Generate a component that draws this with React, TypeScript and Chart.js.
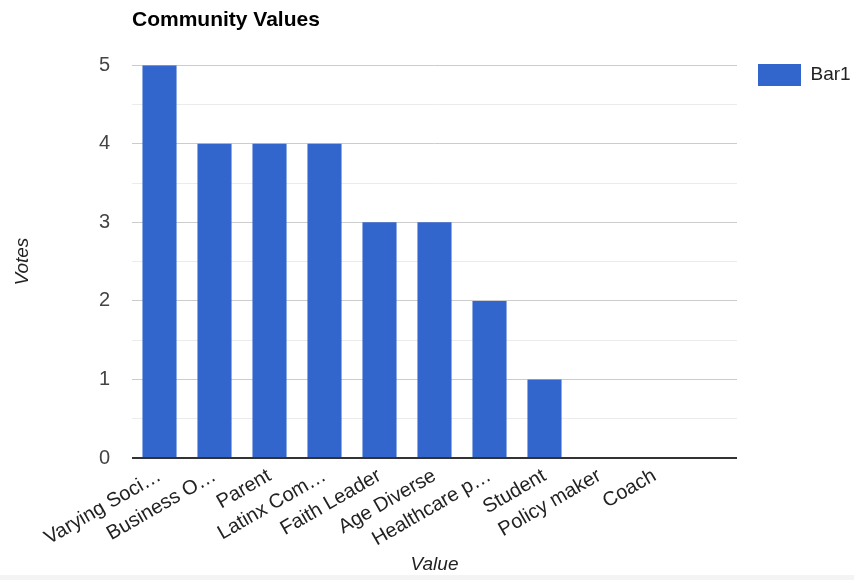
import React, { useEffect, useRef } from 'react';
import { Chart, registerables } from 'chart.js';

Chart.register(...registerables);

const chartTitle = 'Community Values';
const seriesName = 'Bar1';
const xAxisTitle = 'Value';
const yAxisTitle = 'Votes';
const categories = [
  'Varying Soci…',
  'Business O…',
  'Parent',
  'Latinx Com…',
  'Faith Leader',
  'Age Diverse',
  'Healthcare p…',
  'Student',
  'Policy maker',
  'Coach',
  '',
];
const votes = [5, 4, 4, 4, 3, 3, 2, 1, 0, 0, 0];
const yTickLabels = [0, 1, 2, 3, 4, 5];

const FONT = '"Liberation Sans", Arial, sans-serif';

export default function App() {
  const ref = useRef<HTMLCanvasElement | null>(null);

  useEffect(() => {
    document.body.style.margin = '0';
    if (!ref.current) return;
    const chart = new Chart(ref.current, {
      type: 'bar',
      data: {
        labels: categories,
        datasets: [
          {
            label: seriesName,
            data: votes,
            backgroundColor: '#3366cc',
            borderWidth: 0,
            barPercentage: 0.62,
            categoryPercentage: 1,
          },
        ],
      },
      options: {
        animation: false,
        responsive: true,
        maintainAspectRatio: false,
        layout: { padding: { top: 0, left: 0, right: 0, bottom: 0 } },
        plugins: {
          tooltip: { enabled: false },
          title: {
            display: true,
            text: chartTitle,
            align: 'start',
            fullSize: false,
            color: '#000',
            font: { family: FONT, size: 21, weight: 'bold', lineHeight: 1.2 },
            padding: { top: 8, bottom: 32 },
          },
          legend: {
            position: 'right',
            align: 'start',
            fullSize: true,
            maxWidth: 117,
            title: {
              display: true,
              text: ' ',
              font: { family: FONT, size: 10, lineHeight: 1.2 },
              padding: { top: 31, bottom: 0 },
            },
            labels: {
              boxWidth: 43,
              boxHeight: 22,
              padding: 21,
              color: '#222',
              font: { family: FONT, size: 19 },
            },
          },
        },
        scales: {
          x: {
            grid: { display: false, drawTicks: false },
            border: { display: false },
            ticks: {
              autoSkip: false,
              minRotation: 30,
              maxRotation: 30,
              padding: 6,
              color: '#222',
              font: { family: FONT, size: 20 },
            },
            title: {
              display: true,
              text: xAxisTitle,
              color: '#222',
              font: { family: FONT, size: 19, style: 'italic' },
              padding: { top: 0, bottom: 4 },
            },
            afterFit: (s: any) => {
              s.height = 122;
            },
          },
          y: {
            min: 0,
            max: 5,
            ticks: {
              stepSize: 0.5,
              padding: 22,
              color: '#444',
              font: { family: FONT, size: 20 },
              callback: (v: any) => (yTickLabels.includes(Number(v)) ? String(v) : ''),
            },
            grid: {
              drawTicks: false,
              color: (ctx: any) => {
                const v = ctx.tick ? ctx.tick.value : 0;
                if (v === 0) return '#333333';
                return Number.isInteger(v) ? '#cccccc' : '#ebebeb';
              },
              lineWidth: (ctx: any) => (ctx.tick && ctx.tick.value === 0 ? 2 : 1),
            },
            border: { display: false },
            title: {
              display: true,
              text: yAxisTitle,
              color: '#222',
              font: { family: FONT, size: 19, style: 'italic' },
              padding: { top: 11, bottom: 0 },
            },
            afterFit: (s: any) => {
              s.width = 132;
            },
          },
        },
      },
    });
    return () => chart.destroy();
  }, []);

  return (
    <div style={{ position: 'relative', width: 854, height: 580, background: '#fff' }}>
      <div
        style={{ position: 'absolute', left: 0, top: 575, width: 854, height: 5, background: '#f4f4f4' }}
      />
      <div style={{ position: 'absolute', left: 0, top: 0, width: 854, height: 580 }}>
        <canvas ref={ref} />
      </div>
    </div>
  );
}
